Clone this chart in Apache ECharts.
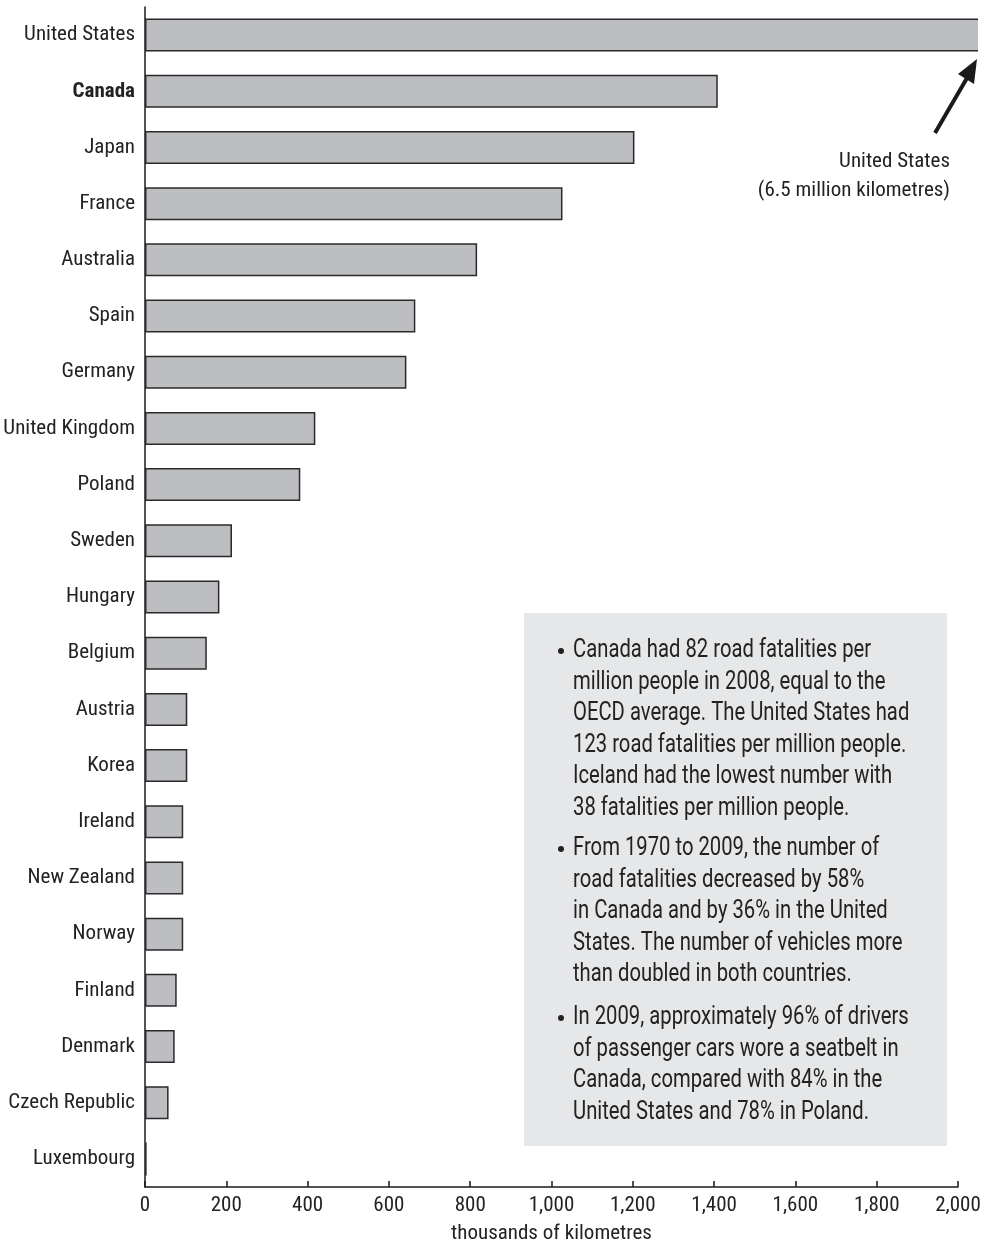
<!DOCTYPE html>
<html>
<head>
<meta charset="utf-8">
<script src="https://cdn.jsdelivr.net/npm/echarts@6/dist/echarts.min.js"></script>
<style>
  html, body { margin: 0; padding: 0; background: #fff; }
  #chart { width: 989px; height: 1241px; }
</style>
</head>
<body>
<div id="chart"></div>
<script>
// countries, top to bottom
var countries = ['United States', 'Canada', 'Japan', 'France', 'Australia', 'Spain', 'Germany',
  'United Kingdom', 'Poland', 'Sweden', 'Hungary', 'Belgium', 'Austria', 'Korea', 'Ireland',
  'New Zealand', 'Norway', 'Finland', 'Denmark', 'Czech Republic', 'Luxembourg'];
// thousands of kilometres of road
var roadKm = [6500, 1409, 1204, 1027, 817, 665, 643, 419, 382, 214, 183, 152, 104, 104, 94,
  94, 94, 78, 73, 58, 4];
var xTicks = [0, 200, 400, 600, 800, 1000, 1200, 1400, 1600, 1800, 2000];

var notes = [
  'Canada had 82 road fatalities per\nmillion people in 2008, equal to the\nOECD average. The United States had\n123 road fatalities per million people.\nIceland had the lowest number with\n38 fatalities per million people.',
  'From 1970 to 2009, the number of\nroad fatalities decreased by 58%\nin Canada and by 36% in the United\nStates. The number of vehicles more\nthan doubled in both countries.',
  'In 2009, approximately 96% of drivers\nof passenger cars wore a seatbelt in\nCanada, compared with 84% in the\nUnited States and 78% in Poland.'
];
var noteTops = [635, 833, 1002];

var FONT = '"Roboto Condensed", "Liberation Sans Narrow", "Arial Narrow", Roboto, sans-serif';

var chart = echarts.init(document.getElementById('chart'));

var graphics = [
  // hides the tail of the clipped US bar
  { type: 'rect', z: 100, shape: { x: 978, y: 10, width: 20, height: 50 }, style: { fill: '#fff' } },
  { type: 'rect', z: 100, shape: { x: 524, y: 613, width: 423, height: 533 }, style: { fill: '#e6e7e8' } },
  { type: 'line', z: 101, shape: { x1: 935, y1: 133, x2: 967, y2: 78 },
    style: { stroke: '#1a1a1a', lineWidth: 4 } },
  { type: 'polygon', z: 101, shape: { points: [[977, 59], [958, 74], [974, 84]] },
    style: { fill: '#1a1a1a' } },
  { type: 'text', z: 101, style: { text: 'United States', x: 950, y: 162, align: 'right',
    verticalAlign: 'middle', fontSize: 21, fontFamily: FONT, fill: '#222' } },
  { type: 'text', z: 101, style: { text: '(6.5 million kilometres)', x: 950, y: 191, align: 'right',
    verticalAlign: 'middle', fontSize: 21, fontFamily: FONT, fill: '#222' } }
];
notes.forEach(function (t, i) {
  graphics.push({ type: 'circle', z: 101, shape: { cx: 561, cy: noteTops[i] + 16, r: 3 },
    style: { fill: '#222' } });
  graphics.push({ type: 'text', z: 101, x: 573, y: noteTops[i], scaleX: 0.81,
    style: { text: t, x: 0, y: 0, verticalAlign: 'top', fontSize: 25, lineHeight: 31.5,
      fontFamily: 'Roboto, sans-serif', fill: '#222' } });
});

chart.setOption({
  animation: false,
  grid: { left: 145, right: 31, top: 7, bottom: 54, outerBoundsMode: 'none', containLabel: false },
  xAxis: {
    type: 'value',
    min: 0, max: 2000, interval: 200,
    name: 'thousands of kilometres',
    nameLocation: 'middle',
    nameGap: 36,
    nameTextStyle: { fontSize: 21, fontFamily: FONT, color: '#222' },
    axisLine: { show: true, lineStyle: { color: '#1a1a1a', width: 1.5 } },
    axisTick: { show: true, inside: true, length: 6, lineStyle: { color: '#1a1a1a', width: 1.5 } },
    splitLine: { show: false },
    axisLabel: {
      fontSize: 21, fontFamily: FONT, color: '#222', margin: 8,
      formatter: function (v) { return xTicks.indexOf(v) >= 0 ? v.toLocaleString('en-US') : ''; }
    }
  },
  yAxis: {
    type: 'category',
    inverse: true,
    data: countries,
    axisLine: { show: true, lineStyle: { color: '#1a1a1a', width: 1.5 } },
    axisTick: { show: false },
    axisLabel: {
      fontSize: 21, fontFamily: FONT, color: '#222', margin: 10,
      formatter: function (v) { return v === 'Canada' ? '{b|' + v + '}' : v; },
      rich: { b: { fontSize: 21, fontFamily: FONT, fontWeight: 'bold', color: '#222' } }
    }
  },
  series: [{
    type: 'bar',
    data: roadKm,
    barWidth: 33,
    clip: false,
    itemStyle: { color: '#bdbec2', borderColor: '#2a2a2a', borderWidth: 1.5 }
  }],
  graphic: graphics
});
</script>
</body>
</html>
